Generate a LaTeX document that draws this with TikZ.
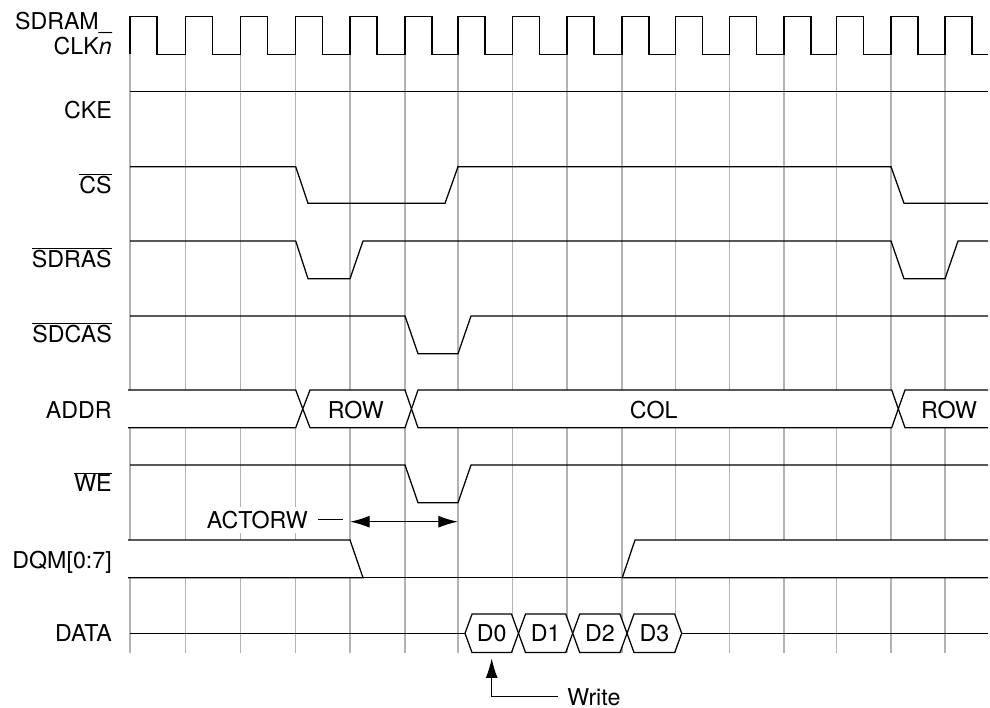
\documentclass[tikz,border=0pt]{standalone}
\usepackage{fontspec}
\setmainfont{TeX Gyre Heros}
\usepackage{tikz}
\usetikzlibrary{arrows.meta,calc}
\definecolor{TDgrid}{RGB}{179,179,179}
\tikzstyle{sig}    = [line width=0.9pt]
\tikzstyle{clk}    = [line width=1.1pt]
\tikzstyle{gridln} = [TDgrid, line width=0.9pt]
\tikzstyle{bus}    = [sig, fill=white]
\tikzstyle{lbl}    = [anchor=base east, inner sep=0pt]
\tikzstyle{val}    = [anchor=base, inner sep=0pt]
\newcommand{\ovl}[1]{$\overline{\mbox{#1}}$}
\def\ticks{130,185.7,240.7,295.7,350,405,458,512.7,567,622,675.7,729.7,784,836.7,891,945}

\begin{document}
\begin{tikzpicture}[x=0.025cm, y=-0.025cm, >={Latex[length=14pt,width=8.5pt]},
                    font=\fontsize{16.5}{17.5}\selectfont]
  \useasboundingbox (0,0) rectangle (990,708);

  % clock grid
  \foreach \x in \ticks \draw[gridln] (\x,54.3) -- (\x,652.5);

  % signal names
  \node[lbl] (sdram) at (112,30)    {SDRAM\_};
  \node[lbl] (clkn)  at (112,55)    {CLK\textit{n}};
  \node[lbl] (cke)   at (112,118.3) {CKE};
  \node[lbl] (cs)    at (112,193.3) {\ovl{CS}};
  \node[lbl] (sdras) at (112,267.3) {\ovl{SDRAS}};
  \node[lbl] (sdcas) at (112,342.3) {\ovl{SDCAS}};
  \node[lbl] (addr)  at (112,418.3) {ADDR};
  \node[lbl] (we)    at (112,491.7) {\ovl{WE}};
  \node[lbl] (dqm)   at (112,568.3) {DQM[0:7]};
  \node[lbl] (data)  at (112,641.7) {DATA};

  % SDRAM_CLKn
  \draw[clk] (130,54.3) \foreach \x in \ticks {-- (\x,54.3) -- (\x,16.7) -- ++(27,0) -- ++(0,37.6)} -- (988,54.3);

  % CKE
  \draw[sig] (130,91.7) -- (988,91.7);

  % CS
  \draw[sig] (130,166.7) -- (295.7,166.7) -- (308,203.3) -- (445,203.3) -- (458,166.7)
             -- (891,166.7) -- (904,203.3) -- (988,203.3);

  % SDRAS
  \draw[sig] (130,241) -- (295.7,241) -- (308,278.7) -- (350,278.7) -- (363,241)
             -- (891,241) -- (904,278.7) -- (945,278.7) -- (958,241) -- (988,241);

  % SDCAS
  \draw[sig] (130,316) -- (405,316) -- (418,353.7) -- (458,353.7) -- (471,316) -- (988,316);

  % ADDR
  \draw[bus] (128,390) -- (295.7,390) -- (302.8,408.85) -- (295.7,427.7) -- (128,427.7);
  \draw[bus] (302.8,408.85) -- (310,390) -- (405,390) -- (411.5,408.85) -- (405,427.7) -- (310,427.7) -- cycle;
  \draw[bus] (411.5,408.85) -- (418,390) -- (891.7,390) -- (898.3,408.85) -- (891.7,427.7) -- (418,427.7) -- cycle;
  \draw[bus] (988,390) -- (905,390) -- (898.3,408.85) -- (905,427.7) -- (988,427.7);
  \node[val] (row1) at (355.8,418.3) {ROW};
  \node[val] (col)  at (653.7,418.3) {COL};
  \node[val] (row2) at (949,418.3)   {ROW};

  % WE
  \draw[sig] (130,465) -- (405,465) -- (418,502.7) -- (458,502.7) -- (471,465) -- (988,465);

  % ACTORW
  \node[lbl, inner ysep=3pt, fill=white] (actorw) at (308,528.3) {ACTORW};
  \coordinate (act1) at (350,521.7);
  \coordinate (act2) at (458,521.7);
  \draw[sig] ($(actorw.east)+(10,0)$) -- ++(25,0);
  \draw[sig, <->] (act1) -- (act2);

  % DQM
  \draw[bus] (128,540) -- (350,540) -- (363,577.7) -- (128,577.7);
  \draw[sig] (363,577.7) -- (622.3,577.7);
  \draw[bus] (988,540) -- (635,540) -- (622.3,577.7) -- (988,577.7);

  % DATA
  \draw[sig] (130,633.3) -- (465,633.3);
  \foreach \a/\b/\t [count=\i from 0] in {465/518.5/D0, 518.5/572.7/D1, 572.7/627/D2, 627/681.7/D3} {
    \draw[bus] (\a,633.3) -- ({\a+7},614.1) -- ({\b-7},614.1) -- (\b,633.3)
               -- ({\b-7},652.5) -- ({\a+7},652.5) -- cycle;
    \node[val] (d\i) at ({(\a+\b)/2},641.7) {\t};
  }
  \draw[sig] (681.7,633.3) -- (988,633.3);

  % write strobe
  \node[anchor=base west, inner sep=0pt] (write) at (567,705) {Write};
  \coordinate (wtip) at (491.7,658.3);
  \draw[sig, ->] ($(write.west)+(-9,0)$) -| (wtip);

\end{tikzpicture}
\end{document}
